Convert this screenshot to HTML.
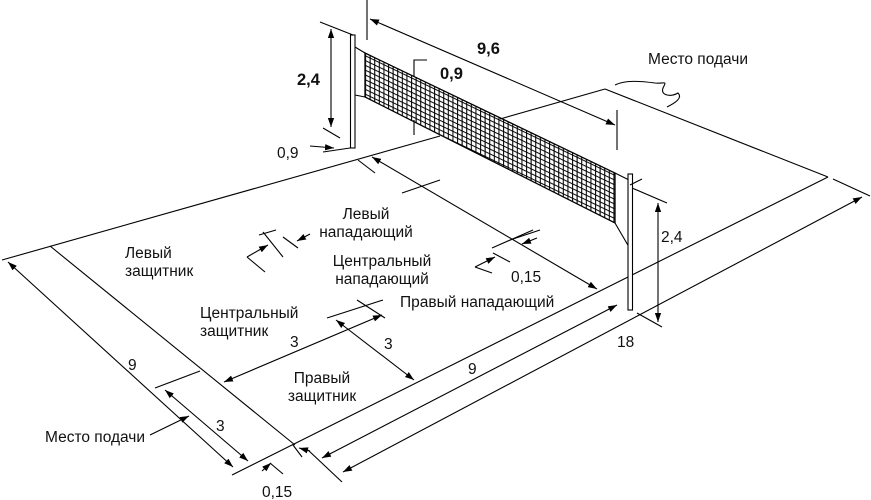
<!DOCTYPE html>
<html><head><meta charset="utf-8"><style>
html,body{margin:0;padding:0;background:#fff}
svg{display:block}
text{font-family:"Liberation Sans",sans-serif;font-size:15.5px;fill:#111}
.b{font-weight:bold;font-size:16.5px}
.m{text-anchor:middle}
</style></head><body>
<svg width="871" height="500" viewBox="0 0 871 500" xmlns="http://www.w3.org/2000/svg">
<defs>
<marker id="a" viewBox="0 0 10 10" refX="10" refY="5" markerWidth="9" markerHeight="9" orient="auto-start-reverse" markerUnits="userSpaceOnUse">
<path d="M0,1.5 L10,5 L0,8.5 z" fill="#000"/></marker>
<pattern id="grid" x="365" y="53" width="4.6" height="4.8" patternUnits="userSpaceOnUse" patternTransform="skewY(25.6)">
<path d="M0.5,0 V4.8 M0,0.5 H4.6" stroke="#000" stroke-width="1.1" fill="none"/></pattern>
</defs>
<g stroke="#000" stroke-width="1.1" fill="none">
<line x1="2" y1="260" x2="440" y2="136"/>
<line x1="500" y1="119" x2="605" y2="89"/>
<line x1="605" y1="89" x2="828" y2="177"/>
<line x1="833" y1="179" x2="870" y2="196"/>
<line x1="232" y1="475" x2="828" y2="177"/>
<line x1="50" y1="246" x2="295" y2="445"/>
<line x1="155" y1="388" x2="200" y2="371"/>
<line x1="8" y1="262" x2="233" y2="467" marker-start="url(#a)" marker-end="url(#a)"/>
<line x1="165" y1="390" x2="248" y2="461" marker-start="url(#a)" marker-end="url(#a)"/>
<line x1="150" y1="435" x2="189" y2="416" marker-end="url(#a)"/>
<line x1="262" y1="471" x2="271" y2="463" marker-end="url(#a)"/>
<line x1="270" y1="463" x2="283" y2="474"/>
<line x1="293" y1="445" x2="302" y2="457"/>
<line x1="310" y1="451" x2="299" y2="448" marker-end="url(#a)"/>
<line x1="308" y1="450" x2="342" y2="482"/>
<line x1="322" y1="458" x2="617" y2="305" marker-start="url(#a)" marker-end="url(#a)"/>
<line x1="343" y1="472" x2="862" y2="197" marker-start="url(#a)" marker-end="url(#a)"/>
<line x1="372" y1="157" x2="597" y2="289" marker-start="url(#a)" marker-end="url(#a)"/>
<line x1="358" y1="160" x2="375" y2="173"/>
<line x1="402" y1="193" x2="440" y2="180"/>
<line x1="492" y1="248" x2="533" y2="230"/>
<line x1="510" y1="240" x2="540" y2="230"/>
<line x1="537" y1="238" x2="522" y2="244" marker-end="url(#a)"/>
<line x1="475" y1="267" x2="492" y2="273"/>
<line x1="475" y1="267" x2="495" y2="257" marker-end="url(#a)"/>
<line x1="493" y1="253" x2="510" y2="262"/>
<line x1="259" y1="235" x2="276" y2="230"/>
<line x1="263" y1="232" x2="283" y2="257"/>
<line x1="247" y1="257" x2="268" y2="245" marker-end="url(#a)"/>
<line x1="247" y1="257" x2="265" y2="272"/>
<line x1="283" y1="237" x2="298" y2="248"/>
<line x1="310" y1="234" x2="297" y2="241" marker-end="url(#a)"/>
<line x1="327" y1="318" x2="383" y2="300"/>
<line x1="357" y1="300" x2="385" y2="318"/>
<line x1="224" y1="382" x2="382" y2="315" marker-start="url(#a)" marker-end="url(#a)"/>
<line x1="336" y1="320" x2="414" y2="380" marker-start="url(#a)" marker-end="url(#a)"/>
<polygon points="365,53 615,173 615,223 365,97" fill="url(#grid)" stroke="none"/>
<polygon points="365,53 615,173 615,223 365,97" stroke-width="1.3"/>
<line x1="355" y1="47" x2="365" y2="53"/>
<line x1="355" y1="95" x2="365" y2="97"/>
<line x1="615" y1="223" x2="629" y2="247"/>
<line x1="615" y1="173" x2="629" y2="180"/>
<rect x="350.5" y="35" width="4.5" height="113" fill="#fff"/>
<rect x="628" y="174" width="4.5" height="136" fill="#fff"/>
<line x1="320" y1="22" x2="353" y2="35"/>
<line x1="331" y1="29" x2="331" y2="127" marker-start="url(#a)" marker-end="url(#a)"/>
<line x1="323" y1="128" x2="340" y2="138"/>
<line x1="310" y1="146" x2="334" y2="148" marker-end="url(#a)"/>
<line x1="323" y1="152" x2="350" y2="148"/>
<line x1="367" y1="0" x2="367" y2="40"/>
<line x1="617" y1="110" x2="617" y2="150"/>
<line x1="370" y1="19" x2="615" y2="125" marker-start="url(#a)" marker-end="url(#a)"/>
<polyline points="427,60 414,60 414,76"/>
<line x1="414" y1="120" x2="414" y2="135"/>
<line x1="632" y1="188" x2="667" y2="203"/>
<line x1="630" y1="185" x2="642" y2="179"/>
<line x1="637" y1="313" x2="662" y2="327"/>
<line x1="658" y1="203" x2="658" y2="322" marker-start="url(#a)" marker-end="url(#a)"/>
<path d="M615,85 C625,80 640,81 655,83 C665,84 667,80 663,88 C660,96 672,97 678,93 C683,98 675,103 667,107"/>
</g>
<text x="125" y="258">Левый</text>
<text x="125" y="276">защитник</text>
<text x="366" y="219" class="m">Левый</text>
<text x="366" y="237" class="m">нападающий</text>
<text x="382" y="266" class="m">Центральный</text>
<text x="382" y="284" class="m">нападающий</text>
<text x="400" y="307">Правый нападающий</text>
<text x="200" y="318">Центральный</text>
<text x="200" y="336">защитник</text>
<text x="322" y="383" class="m">Правый</text>
<text x="322" y="401" class="m">защитник</text>
<text x="45" y="442">Место подачи</text>
<text x="648" y="64">Место подачи</text>
<text x="477" y="54" class="b">9,6</text>
<text x="440" y="79" class="b">0,9</text>
<text x="297" y="85" class="b">2,4</text>
<text x="277" y="158">0,9</text>
<text x="511" y="282">0,15</text>
<text x="661" y="242">2,4</text>
<text x="617" y="347">18</text>
<text x="468" y="374">9</text>
<text x="290" y="347">3</text>
<text x="384" y="349">3</text>
<text x="128" y="370">9</text>
<text x="216" y="431">3</text>
<text x="262" y="497">0,15</text>
</svg>
</body></html>
